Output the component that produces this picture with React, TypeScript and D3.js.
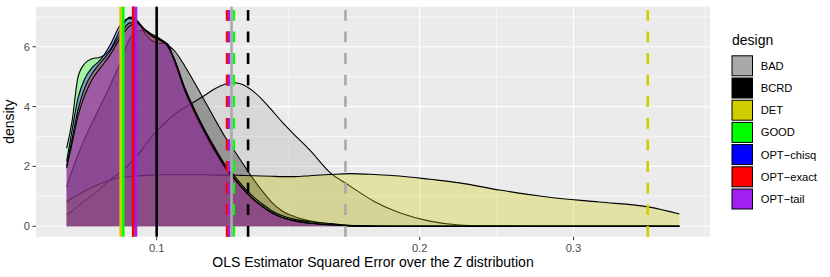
import * as d3 from "d3";

const designs = ["BAD", "BCRD", "DET", "GOOD", "OPT-chisq", "OPT-exact", "OPT-tail"];
const designColors = ["#A9A9A9", "#000000", "#CDCD00", "#00FF00", "#0000FF", "#FF0000", "#A020F0"];

const errGrid = [
  0.07888, 0.08, 0.0813, 0.08279, 0.08434, 0.08614, 0.08843, 0.09079, 0.09321, 0.09495,
  0.09697, 0.09877, 0.10087, 0.10275, 0.10494, 0.10773, 0.1106, 0.11355, 0.11658, 0.11968,
  0.12223, 0.12516, 0.1285, 0.13192, 0.13544, 0.13905, 0.14389, 0.14968, 0.15784, 0.16636,
  0.17764, 0.18969, 0.20532, 0.22224, 0.24691, 0.28151, 0.32117, 0.36645, 0.39649,
];

const densBAD = [
  0.38, 0.5, 0.68, 0.85, 1.03, 1.25, 1.55, 1.8, 2.1, 2.35,
  2.7, 3.0, 3.3, 3.52, 3.75, 3.97, 4.17, 4.38, 4.6, 4.75,
  4.8, 4.75, 4.55, 4.25, 3.88, 3.5, 3.05, 2.55, 1.8, 1.35,
  0.82, 0.45, 0.17, 0.04, 0.005, 0, 0, 0, 0,
];
const densBCRD = [
  1.32, 1.85, 2.4, 2.95, 3.45, 4.0, 4.7, 5.45, 6.28, 6.52,
  6.55, 6.42, 6.27, 6.08, 5.85, 5.35, 4.78, 4.18, 3.58, 3.0,
  2.6, 2.15, 1.65, 1.2, 0.8, 0.52, 0.32, 0.18, 0.08, 0.03,
  0.01, 0, 0, 0, 0, 0, 0, 0, 0,
];
const densDET = [
  0.82, 0.93, 1.05, 1.18, 1.3, 1.42, 1.54, 1.62, 1.66, 1.68,
  1.7, 1.71, 1.72, 1.72, 1.72, 1.72, 1.72, 1.72, 1.71, 1.71,
  1.71, 1.7, 1.69, 1.68, 1.67, 1.66, 1.66, 1.69, 1.73, 1.76,
  1.73, 1.68, 1.57, 1.45, 1.21, 0.97, 0.81, 0.64, 0.41,
];
const densGOOD = [
  2.61, 3.5, 5.0, 5.45, 5.6, 5.65, 5.9, 6.55, 6.99, 6.88,
  6.55, 6.35, 6.25, 6.1, 5.55, 4.62, 3.88, 3.22, 2.62, 2.08,
  1.75, 1.38, 1.03, 0.76, 0.52, 0.36, 0.23, 0.15, 0.09, 0.025,
  0.005, 0, 0, 0, 0, 0, 0, 0, 0,
];
const densOPTchisq = [
  2.16, 3.2, 4.3, 4.95, 5.3, 5.55, 6.05, 6.72, 6.95, 6.86,
  6.45, 6.2, 6.12, 6.12, 5.45, 4.5, 3.76, 3.1, 2.5, 1.96,
  1.63, 1.28, 0.93, 0.66, 0.44, 0.29, 0.17, 0.1, 0.05, 0.012,
  0.002, 0, 0, 0, 0, 0, 0, 0, 0,
];
const densOPTexact = [
  2.0, 2.9, 3.9, 4.65, 5.1, 5.45, 5.85, 6.4, 6.8, 6.8,
  6.58, 6.38, 6.24, 6.06, 5.52, 4.58, 3.84, 3.17, 2.57, 2.02,
  1.67, 1.31, 0.96, 0.69, 0.46, 0.3, 0.18, 0.1, 0.05, 0.012,
  0.002, 0, 0, 0, 0, 0, 0, 0, 0,
];
const densOPTtail = [
  1.95, 2.75, 3.7, 4.4, 4.9, 5.28, 5.72, 6.28, 6.7, 6.78,
  6.55, 6.35, 6.22, 6.05, 5.5, 4.56, 3.82, 3.15, 2.55, 2.0,
  1.66, 1.3, 0.95, 0.68, 0.45, 0.3, 0.18, 0.1, 0.05, 0.012,
  0.002, 0, 0, 0, 0, 0, 0, 0, 0,
];
const densities = [densBAD, densBCRD, densDET, densGOOD, densOPTchisq, densOPTexact, densOPTtail];

// per-design reference lines
const solidLineX = [0.12181, 0.1, 0.09095, 0.09158, 0.094, 0.09403, 0.0947];
const dashedLineX = [0.16446, 0.12724, 0.36478, 0.12254, 0.1208, 0.1204, 0.12104];

const xTicks = [0.1, 0.2, 0.3];
const yTicks = [0, 2, 4, 6];

const width = 830;
const height = 277;
const panel = { left: 36, right: 710, top: 6.7, bottom: 236.7 };
const font = "'Liberation Sans', Arial, Helvetica, sans-serif";

export default function App() {
  const [lo, hi] = (d3.extent(errGrid) as [number, number]).map(Math.log10);
  const padX = (hi - lo) * 0.05;
  const x = d3.scaleLog([10 ** (lo - padX), 10 ** (hi + padX)], [panel.left, panel.right]);
  const yMax = d3.max(densities.flat()) as number;
  const y = d3.scaleLinear([-yMax * 0.05, yMax * 1.05], [panel.bottom, panel.top]);

  // ggplot style minor breaks: midpoints in transformed space
  const lt = xTicks.map(Math.log10);
  const step = lt[1] - lt[0];
  const ext = [lt[0] - step, ...lt, lt[lt.length - 1] + step];
  const [d0, d1] = x.domain();
  const xMinor = d3.pairs(ext, (a, b) => 10 ** ((a + b) / 2)).filter((v) => v > d0 && v < d1);
  const yExt = [...yTicks, yTicks[yTicks.length - 1] + 2];
  const yMinor = d3.pairs(yExt, (a, b) => (a + b) / 2).filter((v) => y(v) > panel.top);

  const area = d3.area<number>()
    .x((_, i) => x(errGrid[i]))
    .y0(y(0))
    .y1((d) => y(d))
    .curve(d3.curveMonotoneX);
  const line = d3.line<number>()
    .x((_, i) => x(errGrid[i]))
    .y((d) => y(d))
    .curve(d3.curveMonotoneX);

  const legendX = 732;
  const legendY0 = 65.8;
  const legendStep = 22.2;

  return (
    <svg width={width} height={height} style={{ position: "absolute", left: 0, top: 0, background: "#fff" }} fontFamily={font}>
      <rect x={panel.left} y={panel.top} width={panel.right - panel.left} height={panel.bottom - panel.top} fill="#EBEBEB" />
      {yMinor.map((v) => (
        <line key={"ym" + v} x1={panel.left} x2={panel.right} y1={y(v)} y2={y(v)} stroke="#fff" strokeWidth={0.6} />
      ))}
      {xMinor.map((v) => (
        <line key={"xm" + v} x1={x(v)} x2={x(v)} y1={panel.top} y2={panel.bottom} stroke="#fff" strokeWidth={0.6} />
      ))}
      {yTicks.map((v) => (
        <line key={"yg" + v} x1={panel.left} x2={panel.right} y1={y(v)} y2={y(v)} stroke="#fff" strokeWidth={1.2} />
      ))}
      {xTicks.map((v) => (
        <line key={"xg" + v} x1={x(v)} x2={x(v)} y1={panel.top} y2={panel.bottom} stroke="#fff" strokeWidth={1.2} />
      ))}

      {densities.map((d, i) => (
        <g key={designs[i]}>
          <path d={area(d) ?? ""} fill={designColors[i]} fillOpacity={0.3} />
          <path d={line(d) ?? ""} fill="none" stroke="#000" strokeWidth={1.1} />
        </g>
      ))}

      {dashedLineX.map((v, i) => (
        <line key={"dl" + i} x1={x(v)} x2={x(v)} y1={panel.bottom} y2={panel.top}
          stroke={designColors[i]} strokeWidth={2.6} strokeDasharray="10.8,10.8" />
      ))}
      {solidLineX.map((v, i) => (
        <line key={"sl" + i} x1={x(v)} x2={x(v)} y1={panel.bottom} y2={panel.top}
          stroke={designColors[i]} strokeWidth={2.6} />
      ))}

      {/* axes */}
      {yTicks.map((v) => (
        <g key={"yt" + v}>
          <line x1={panel.left - 3.5} x2={panel.left} y1={y(v)} y2={y(v)} stroke="#333" strokeWidth={1} />
          <text x={panel.left - 6} y={y(v)} dy="0.35em" textAnchor="end" fontSize={11.2} fill="#4D4D4D">{v}</text>
        </g>
      ))}
      {xTicks.map((v) => (
        <g key={"xt" + v}>
          <line x1={x(v)} x2={x(v)} y1={panel.bottom} y2={panel.bottom + 3.5} stroke="#333" strokeWidth={1} />
          <text x={x(v)} y={251.7} textAnchor="middle" fontSize={11.2} fill="#4D4D4D">{v}</text>
        </g>
      ))}
      <text x={(panel.left + panel.right) / 2} y={267} textAnchor="middle" fontSize={14} fill="#000">
        OLS Estimator Squared Error over the Z distribution
      </text>
      <text transform={`translate(14,${(panel.top + panel.bottom) / 2}) rotate(-90)`} textAnchor="middle" fontSize={14} fill="#000">
        density
      </text>

      {/* legend */}
      <text x={legendX} y={44.5} fontSize={14} fill="#000">design</text>
      {designs.map((name, i) => {
        const cy = legendY0 + i * legendStep;
        return (
          <g key={"lg" + name}>
            <rect x={legendX} y={cy - 10} width={20.5} height={20} fill={designColors[i]} stroke="#000" strokeWidth={1} />
            <text x={760.7} y={cy} dy="0.35em" fontSize={11.2} fill="#000">{name.replace("-", "\u2212")}</text>
          </g>
        );
      })}
    </svg>
  );
}
